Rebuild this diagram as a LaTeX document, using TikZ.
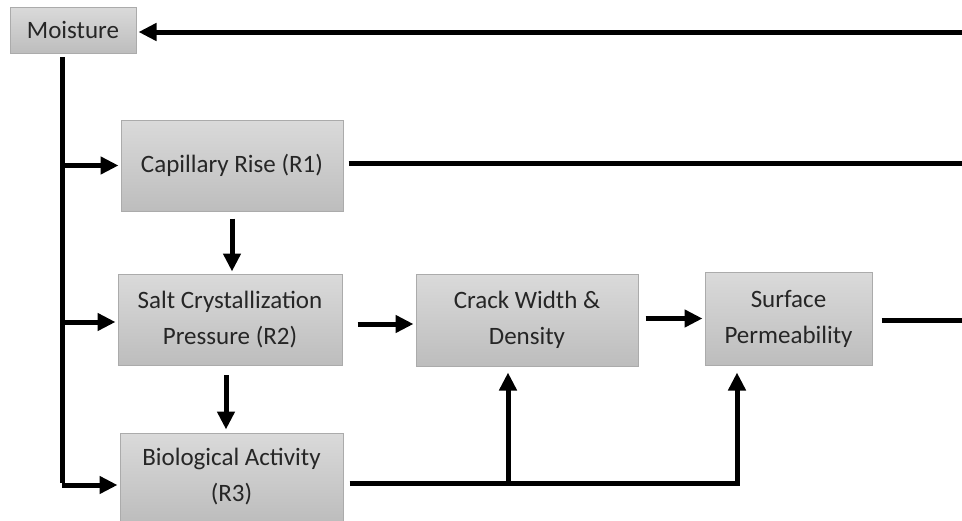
\documentclass[tikz,border=0pt]{standalone}
\usepackage{fontspec}
\setmainfont{Carlito}
\usetikzlibrary{arrows.meta,calc}
\definecolor{boxtop}{HTML}{DADADA}
\definecolor{boxbot}{HTML}{BDBDBD}
\definecolor{boxline}{HTML}{ABABAB}
\definecolor{txt}{HTML}{262626}
\begin{document}
\begin{tikzpicture}[x=1pt,y=-1pt,
  box/.style={draw=boxline,line width=1pt,top color=boxtop,bottom color=boxbot,inner sep=0pt,align=center,font=\fontsize{25}{36}\selectfont,text=txt},
  conn/.style={line width=5pt},
  arr/.style={conn,-{Triangle[length=18pt,width=17pt]}}]
\useasboundingbox (0,0) rectangle (962,520);
% nodes
\node[box,minimum width=126pt,minimum height=46pt] (moist) at (73,30) {Moisture};
\node[box,minimum width=222pt,minimum height=91pt] (cap) at (232,165.5) {Capillary Rise (R1)};
\node[box,minimum width=224pt,minimum height=91pt] (salt) at (230,319.5) {Salt Crystallization\\Pressure (R2)};
\node[box,minimum width=222pt,minimum height=92pt] (crack) at (527,320) {Crack Width \&\\Density};
\node[box,minimum width=167pt,minimum height=93pt] (surf) at (788.5,318.5) {Surface\\Permeability};
\node[box,minimum width=223pt,minimum height=88pt] (bio) at (231.5,477) {Biological Activity\\(R3)};
% coordinates
\coordinate (rtop) at (962,32);
\coordinate (rcap) at (962,163);
\coordinate (rsurf) at (962,320);
\coordinate (ttop) at (62,57);
\coordinate (tbot) at (62,485);
\coordinate (j1) at (508,483);
\coordinate (j2) at (737,483);
% connectors
\draw[arr,shorten >=2pt] (rtop) -- (moist.east |- rtop);
\draw[conn] (ttop) -- ([yshift=2.5pt]tbot);
\draw[arr,shorten >=2pt] (ttop |- cap) -- (cap.west);
\draw[arr,shorten >=2pt] (62,322) -- (salt.west |- 0,322);
\draw[arr,shorten >=2pt] (tbot) -- (bio.west |- tbot);
\draw[conn] ([xshift=5pt]cap.east |- rcap) -- (rcap);
\draw[arr,shorten <=7pt,shorten >=2pt] (cap.south) -- (salt.north -| cap.south);
\draw[arr,shorten <=10pt,shorten >=3pt] (226,365) -- (bio.north -| 226,0);
\draw[arr,shorten <=15pt,shorten >=2pt] (salt.east |- 0,324) -- (crack.west |- 0,324);
\draw[arr,shorten <=7pt,shorten >=2pt] (crack.east |- surf) -- (surf.west);
\draw[conn,shorten <=9pt] (surf.east |- rsurf) -- (rsurf);
\draw[conn,shorten <=6pt] (bio.east |- j1) -- ([xshift=2.5pt]j2);
\draw[arr,shorten >=6pt] ([yshift=2.5pt]j1) -- (crack.south -| j1);
\draw[arr,shorten >=7pt] ([yshift=2.5pt]j2) -- (surf.south -| j2);
\end{tikzpicture}
\end{document}
